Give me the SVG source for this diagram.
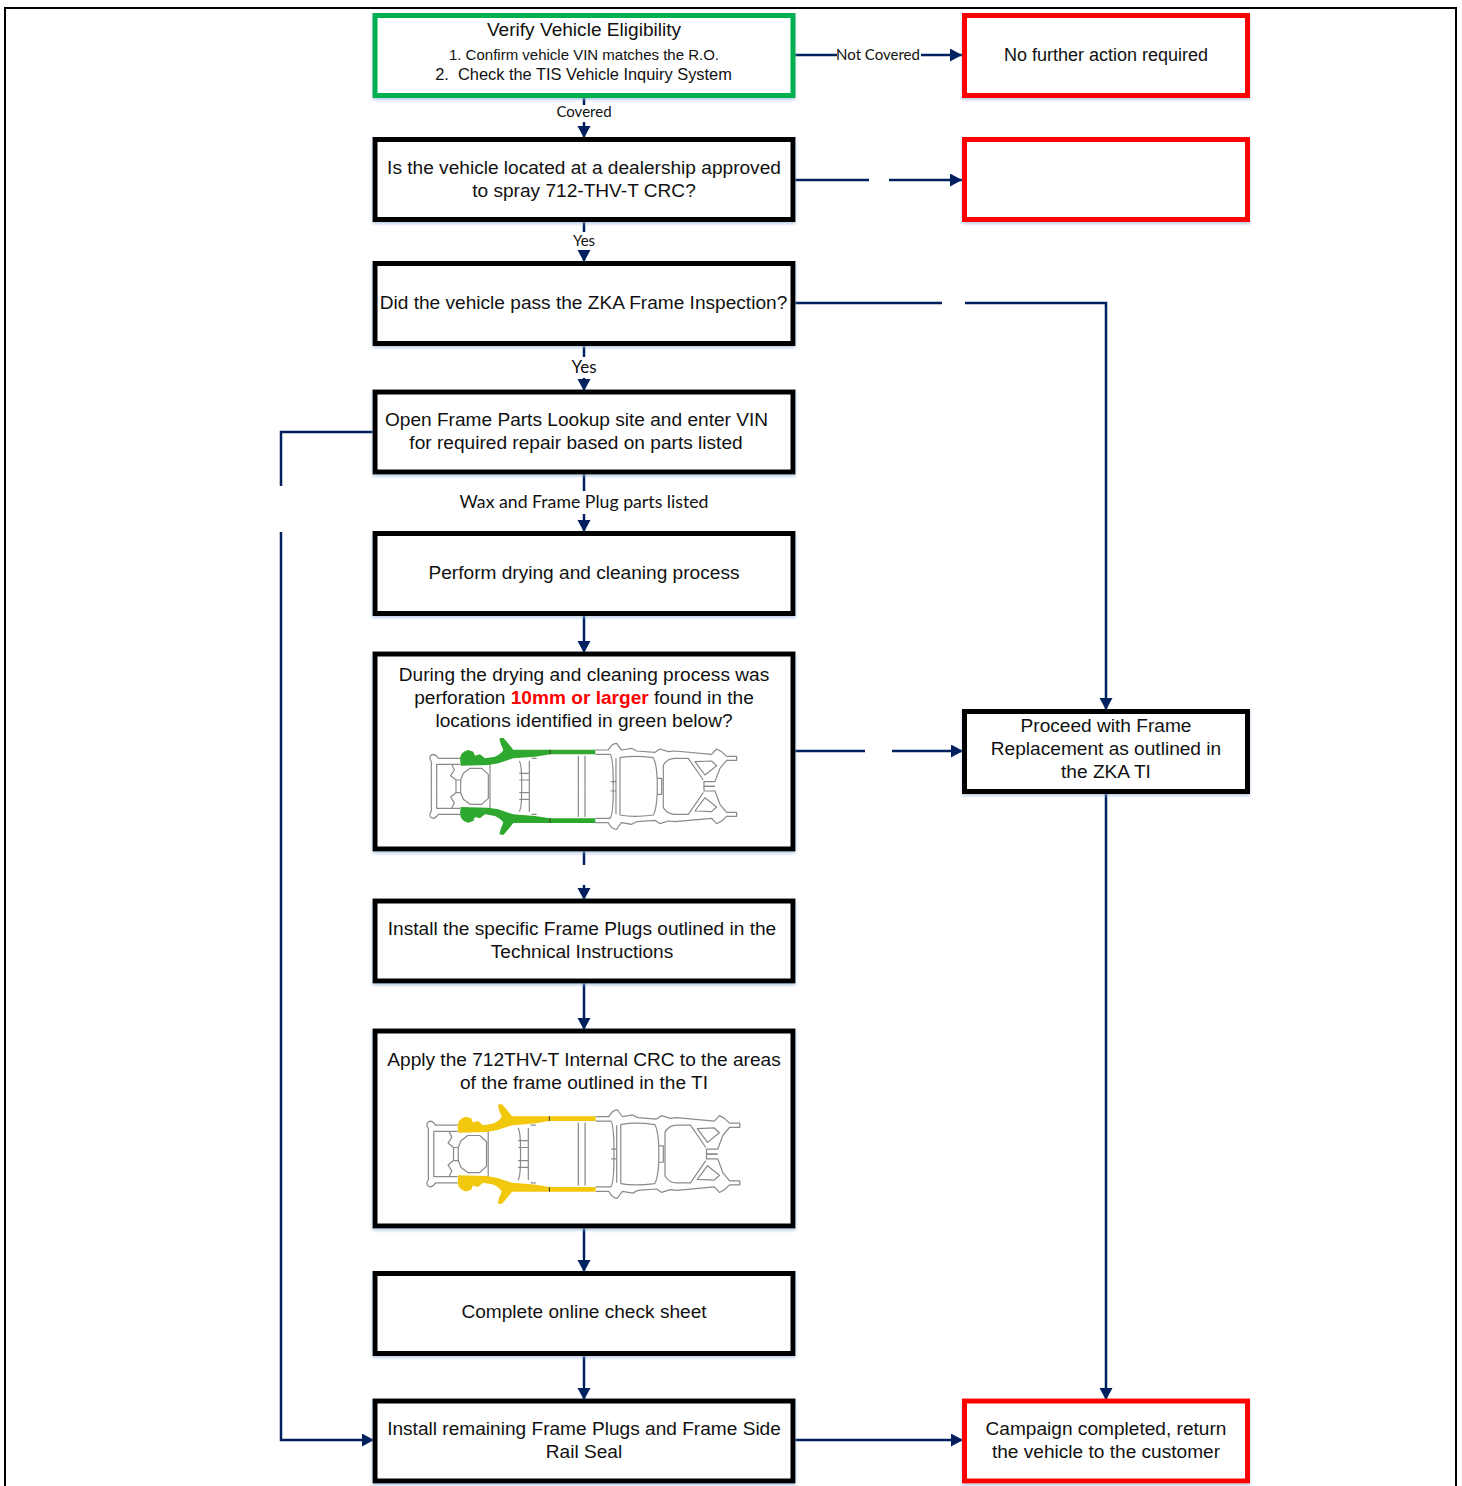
<svg xmlns="http://www.w3.org/2000/svg" width="1462" height="1486" viewBox="0 0 1462 1486">
<style>
.b{fill:#fff;stroke:#000;stroke-width:5}
.g{fill:#fff;stroke:#00b050;stroke-width:5}
.r{fill:#fff;stroke:#f00;stroke-width:5}
.s{filter:url(#sh)}
.c{fill:none;stroke:#002060;stroke-width:2.5}
.t{font-family:"Liberation Sans",Arial,sans-serif;font-size:19.1px;fill:#111;text-anchor:middle}
.l{font-family:Lato,"Open Sans",sans-serif;fill:#111;text-anchor:middle;font-size:15px}
.f{fill:none;stroke:#8a8a8a;stroke-width:3.6;stroke-linejoin:round}
.im{filter:url(#bl)}
</style>
<defs>
<filter id="sh" x="-3%" y="-5%" width="106%" height="112%"><feDropShadow dx="0" dy="2" stdDeviation="1.5" flood-color="#8fb0d8" flood-opacity=".6"/></filter>
<filter id="bl"><feGaussianBlur stdDeviation="1.2"/></filter>
<marker id="a" markerUnits="userSpaceOnUse" markerWidth="14" markerHeight="14" refX="12" refY="6.500" orient="auto"><path d="M0,0L12,6.500L0,13Z" fill="#002060"/></marker>
<g id="half">
<path class="f" d="M120,70H55Q50,60 40,58Q28,60 30,72Q36,80 34,90V154M120,88H50V154M95,88L103,105L92,122L108,135V154M108,135H122V154M122,135L130,115L150,100H185L205,118V154M210,85V154M298,78Q306,90 305,154M328,78V154M298,115H328M298,135H328M335,70H350M475,62V154M495,62V154"/>
<path class="f" d="M526,45H565Q575,25 590,25Q600,40 605,45L635,40L650,48L705,52L720,42L745,50L765,48L875,58L890,42L905,50L920,64H950V76H920L900,100L885,140H852V154H885M526,58H570Q580,65 580,154M588,70V154M600,154V68Q640,60 700,68Q712,90 712,154M730,154V90Q742,70 765,70H805L850,135M825,80L855,120L890,92L875,78ZM572,140H588M712,130H725V154"/>
</g>
<path id="hot" d="M122,92L120,70Q122,50 145,45L160,50L165,62L180,58L195,70L225,65Q245,55 250,45Q240,25 238,10L250,8Q265,25 280,44H526V58H390L345,65L280,70L235,85L205,90Z"/>
<path id="seam" d="M390,44V58" fill="none" stroke="#3a3a20" stroke-width="3"/>
</defs>
<rect width="1462" height="1486" fill="#fff"/>
<path d="M5,1486V8H1456V1486" fill="none" stroke="#000" stroke-width="2"/>
<g id="connectors">
<path class="c" d="M795,55H837"/>
<path class="c" d="M921,55H962" marker-end="url(#a)"/>
<path class="c" d="M584,97V105"/>
<path class="c" d="M584,122V138" marker-end="url(#a)"/>
<path class="c" d="M795,180H869"/>
<path class="c" d="M889,180H962" marker-end="url(#a)"/>
<path class="c" d="M584,221V232"/>
<path class="c" d="M584,250V262" marker-end="url(#a)"/>
<path class="c" d="M795,303H942"/>
<path class="c" d="M965,303H1106V710" marker-end="url(#a)"/>
<path class="c" d="M584,345V357"/>
<path class="c" d="M584,378V391" marker-end="url(#a)"/>
<path class="c" d="M584,474V491"/>
<path class="c" d="M584,514V532" marker-end="url(#a)"/>
<path class="c" d="M374,432H281V486"/>
<path class="c" d="M281,532V1440H374" marker-end="url(#a)"/>
<path class="c" d="M584,615V653" marker-end="url(#a)"/>
<path class="c" d="M795,751H865"/>
<path class="c" d="M892,751H963" marker-end="url(#a)"/>
<path class="c" d="M584,851V865"/>
<path class="c" d="M584,885V900" marker-end="url(#a)"/>
<path class="c" d="M584,983V1030" marker-end="url(#a)"/>
<path class="c" d="M584,1228V1272" marker-end="url(#a)"/>
<path class="c" d="M584,1355V1400" marker-end="url(#a)"/>
<path class="c" d="M795,1440H963" marker-end="url(#a)"/>
<path class="c" d="M1106,793V1400" marker-end="url(#a)"/>
<text class="l" x="878" y="60">Not Covered</text>
<text class="l" x="584" y="117">Covered</text>
<text class="l" x="584" y="246">Yes</text>
<text class="l" x="584" y="373" style="font-size:17px">Yes</text>
<text class="l" x="584" y="508" style="font-size:17.700px">Wax and Frame Plug parts listed</text>
</g>
<g id="n1"><rect class="g s" x="375" y="15.500" width="418" height="80"/>
<text class="t" x="584" y="36">Verify Vehicle Eligibility</text>
<text class="t" x="584" y="60" style="font-size:15px">1. Confirm vehicle VIN matches the R.O.</text>
<text class="t" x="583.500" y="80" style="font-size:16.400px" xml:space="preserve">2.  Check the TIS Vehicle Inquiry System</text></g>
<g id="n2"><rect class="r s" x="964.500" y="15.500" width="283" height="80"/><text class="t" x="1106" y="61" style="font-size:18px">No further action required</text></g>
<g id="n3"><rect class="b s" x="375" y="139.500" width="418" height="80"/>
<text class="t" x="584" y="174">Is the vehicle located at a dealership approved</text>
<text class="t" x="584" y="197">to spray 712-THV-T CRC?</text></g>
<g id="n4"><rect class="r s" x="964.500" y="139.500" width="283" height="80"/></g>
<g id="n5"><rect class="b s" x="375" y="263.500" width="418" height="80"/>
<text class="t" x="583.500" y="309">Did the vehicle pass the ZKA Frame Inspection?</text></g>
<g id="n6"><rect class="b s" x="375" y="392" width="418" height="80"/>
<text class="t" x="576.500" y="426">Open Frame Parts Lookup site and enter VIN</text>
<text class="t" x="576" y="449">for required repair based on parts listed</text></g>
<g id="n7"><rect class="b s" x="375" y="533.500" width="418" height="80"/>
<text class="t" x="584" y="579">Perform drying and cleaning process</text></g>
<g id="n8"><rect class="b s" x="375" y="654" width="418" height="195"/>
<text class="t" x="584" y="681">During the drying and cleaning process was</text>
<text class="t" x="584" y="704">perforation <tspan font-weight="bold" fill="#f00">10mm or larger</tspan> found in the</text>
<text class="t" x="584" y="727">locations identified in green below?</text>
<g class="im" transform="translate(420,735) scale(.3333)">
<use href="#half"/><use href="#half" transform="matrix(1,0,0,-1,0,308)"/>
<use href="#hot" fill="#2fa82f"/><use href="#hot" fill="#2fa82f" transform="matrix(1,0,0,-1,0,308)"/>
<use href="#seam"/><use href="#seam" transform="matrix(1,0,0,-1,0,308)"/>
</g></g>
<g id="n9"><rect class="b s" x="964.500" y="711.500" width="283" height="80"/>
<text class="t" x="1106" y="732">Proceed with Frame</text>
<text class="t" x="1106" y="755">Replacement as outlined in</text>
<text class="t" x="1106" y="778">the ZKA TI</text></g>
<g id="n10"><rect class="b s" x="375" y="901" width="418" height="80"/>
<text class="t" x="582" y="935">Install the specific Frame Plugs outlined in the</text>
<text class="t" x="582" y="958">Technical Instructions</text></g>
<g id="n11"><rect class="b s" x="375" y="1031" width="418" height="195"/>
<text class="t" x="584" y="1066">Apply the 712THV-T Internal CRC to the areas</text>
<text class="t" x="584" y="1089">of the frame outlined in the TI</text>
<g class="im" transform="translate(416.800,1101.200) scale(.34,.343)">
<use href="#half"/><use href="#half" transform="matrix(1,0,0,-1,0,308)"/>
<use href="#hot" fill="#f2c811"/><use href="#hot" fill="#f2c811" transform="matrix(1,0,0,-1,0,308)"/>
<use href="#seam"/><use href="#seam" transform="matrix(1,0,0,-1,0,308)"/>
</g></g>
<g id="n12"><rect class="b s" x="375" y="1273.500" width="418" height="80"/>
<text class="t" x="584" y="1318">Complete online check sheet</text></g>
<g id="n13"><rect class="b s" x="375" y="1401" width="418" height="80"/>
<text class="t" x="584" y="1435">Install remaining Frame Plugs and Frame Side</text>
<text class="t" x="584" y="1458">Rail Seal</text></g>
<g id="n14"><rect class="r s" x="964.500" y="1401" width="283" height="80"/>
<text class="t" x="1106" y="1435">Campaign completed, return</text>
<text class="t" x="1106" y="1458">the vehicle to the customer</text></g>
</svg>
